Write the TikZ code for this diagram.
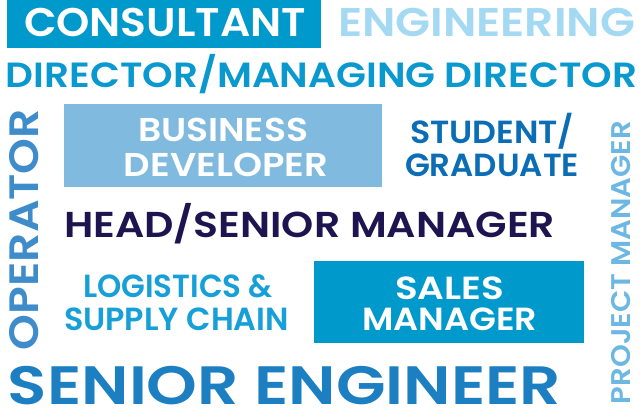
\documentclass[tikz,border=0pt]{standalone}
\usepackage{fontspec}
\setmainfont{Poppins}[BoldFont={Poppins SemiBold}]
\usepackage{graphicx}
\definecolor{cbox}{HTML}{0099CC}
\definecolor{ceng}{HTML}{A3D9F2}
\definecolor{cdir}{HTML}{0A99CF}
\definecolor{cbiz}{HTML}{80BBDF}
\definecolor{cstu}{HTML}{0A6DB5}
\definecolor{chead}{HTML}{1E1450}
\definecolor{clog}{HTML}{17A0D8}
\definecolor{csen}{HTML}{1B7FC2}
\definecolor{cop}{HTML}{3F8CCB}
\definecolor{cproj}{HTML}{6CB8E2}
% \wtxt{width}{font size}{text}
\newcommand{\wtxt}[3]{\resizebox{#1pt}{\height}{\fontsize{#2pt}{#2pt}\selectfont\bfseries #3}}
\begin{document}
\begin{tikzpicture}[x=1pt,y=-1pt,
  word/.style={inner sep=0pt,outer sep=0pt,anchor=base west}]
\useasboundingbox (0,0) rectangle (641,412);
\fill[white] (0,0) rectangle (641,412);
% boxes
\fill[cbox] (7,0) rectangle (321,48);
\fill[cbiz] (64,104) rectangle (382,187);
\fill[cbox] (314,261) rectangle (584,343);
% words
\node[word,text=white] (consultant) at (24,37) {\wtxt{282}{40}{CONSULTANT}};
\node[word,text=ceng] (engineering) at (338,37) {\wtxt{297}{40}{ENGINEERING}};
\node[word,text=cdir] (director) at (6,88) {\wtxt{631}{35}{DIRECTOR/MANAGING DIRECTOR}};
\node[word,text=white] (business) at (138,142) {\wtxt{170}{33}{BUSINESS}};
\node[word,text=white] (developer) at (124,177) {\wtxt{204}{33}{DEVELOPER}};
\node[word,text=cstu] (student) at (410,144) {\wtxt{164}{32}{STUDENT/}};
\node[word,text=cstu] (graduate) at (405,177) {\wtxt{174}{32}{GRADUATE}};
\node[word,text=chead] (head) at (64,237) {\wtxt{491}{36}{HEAD/SENIOR MANAGER}};
\node[word,text=clog] (logistics) at (83,298) {\wtxt{190}{32}{LOGISTICS \&}};
\node[word,text=clog] (supply) at (64,330) {\wtxt{225}{32}{SUPPLY CHAIN}};
\node[word,text=white] (sales) at (395,299) {\wtxt{109}{32}{SALES}};
\node[word,text=white] (manager) at (362,330) {\wtxt{175}{32}{MANAGER}};
\node[word,text=csen] (senior) at (8,404) {\wtxt{553}{54}{SENIOR ENGINEER}};
\node[word,text=cop,rotate=90] (operator) at (38,350) {\wtxt{241}{41}{OPERATOR}};
\node[word,text=cproj,rotate=90] (project) at (630,404) {\wtxt{283}{27}{PROJECT MANAGER}};
\end{tikzpicture}
\end{document}
